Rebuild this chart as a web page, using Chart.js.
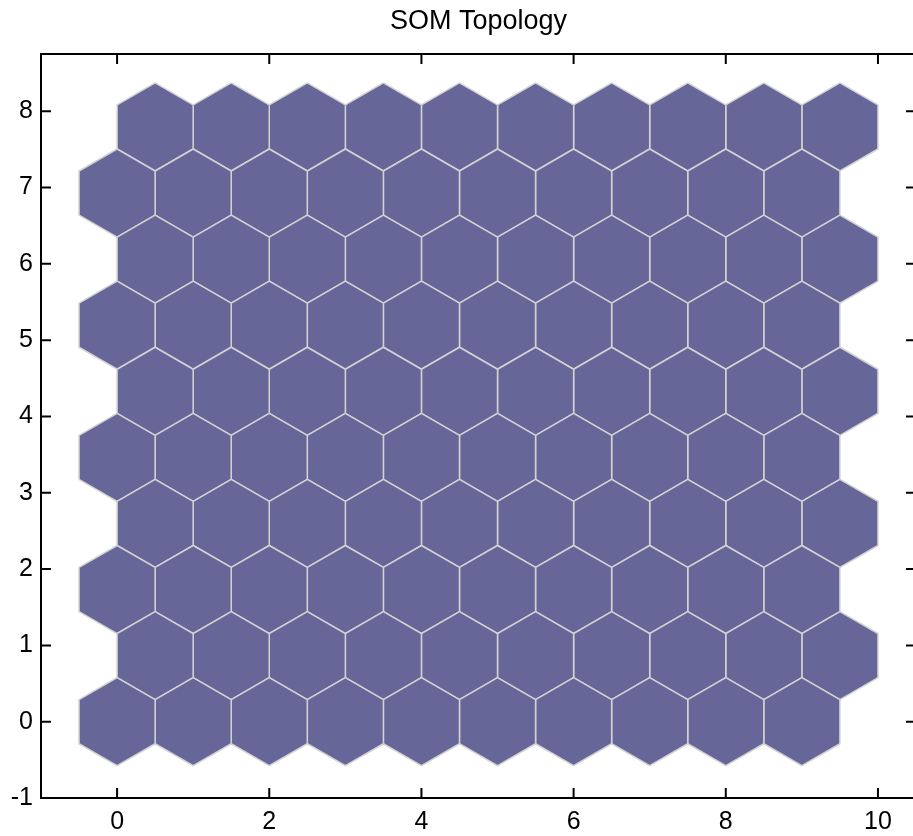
<!DOCTYPE html>
<html>
<head>
<meta charset="utf-8">
<script src="https://cdn.jsdelivr.net/npm/chart.js@4"></script>
<style>
  html, body { margin: 0; padding: 0; background: #fff; overflow: hidden; }
  #wrap { width: 913px; height: 836px; overflow: hidden; }
</style>
</head>
<body>
<div id="wrap"><canvas id="somChart" width="930" height="836"></canvas></div>
<script>
// SOM grid: 10 x 10 hexagonal neurons
const colX = [0, 1, 2, 3, 4, 5, 6, 7, 8, 9];
const rowY = [0, 0.866, 1.732, 2.598, 3.464, 4.330, 5.196, 6.062, 6.928, 7.794];
const rowShift = [0, 0.5, 0, 0.5, 0, 0.5, 0, 0.5, 0, 0.5];

// hexagon outline relative to its centre (pointy top)
const hexDX = [0, 0.5, 0.5, 0, -0.5, -0.5, 0];
const hexDY = [0.577, 0.289, -0.289, -0.577, -0.289, 0.289, 0.577];

const xTicks = [0, 2, 4, 6, 8, 10];
const yTicks = [-1, 0, 1, 2, 3, 4, 5, 6, 7, 8];

const datasets = [];
rowY.forEach((cy, r) => {
    colX.forEach(c => {
        const cx = c + rowShift[r];
        datasets.push({
            data: hexDX.map((dx, i) => ({ x: cx + dx, y: cy + hexDY[i] })),
            showLine: true,
            fill: 'shape',
            backgroundColor: '#666699',
            borderColor: '#d2d2d2',
            borderWidth: 1.5,
            pointRadius: 0,
            tension: 0
        });
    });
});

// MATLAB-style box with inward ticks on all four sides
const boxTicks = {
    id: 'boxTicks',
    afterDraw(chart) {
        const { ctx, chartArea: a, scales } = chart;
        const len = 10;
        ctx.save();
        ctx.strokeStyle = '#000';
        ctx.lineWidth = 2;
        ctx.strokeRect(a.left, a.top, a.right - a.left, a.bottom - a.top);
        ctx.beginPath();
        xTicks.forEach(v => {
            const px = scales.x.getPixelForValue(v);
            ctx.moveTo(px, a.bottom); ctx.lineTo(px, a.bottom - len);
            ctx.moveTo(px, a.top); ctx.lineTo(px, a.top + len);
        });
        yTicks.forEach(v => {
            const py = scales.y.getPixelForValue(v);
            ctx.moveTo(a.left, py); ctx.lineTo(a.left + len, py);
            ctx.moveTo(a.right, py); ctx.lineTo(a.right - len, py);
        });
        ctx.stroke();
        ctx.restore();
    }
};

new Chart(document.getElementById('somChart'), {
    type: 'scatter',
    data: { datasets },
    options: {
        responsive: false,
        animation: false,
        layout: { padding: { right: 14, left: 0, top: 0, bottom: 0 } },
        scales: {
            x: {
                type: 'linear',
                min: -1,
                max: 10.5,
                afterBuildTicks: s => { s.ticks = xTicks.map(v => ({ value: v })); },
                afterFit: s => { s.height = 38; },
                grid: { display: false, drawTicks: false },
                border: { display: false },
                ticks: { color: '#000', padding: 9, font: { family: 'Liberation Sans', size: 25 } }
            },
            y: {
                type: 'linear',
                min: -1,
                max: 8.75,
                afterBuildTicks: s => { s.ticks = yTicks.map(v => ({ value: v })); },
                afterFit: s => { s.width = 41; },
                grid: { display: false, drawTicks: false },
                border: { display: false },
                ticks: { color: '#000', padding: 8, font: { family: 'Liberation Sans', size: 25 } }
            }
        },
        plugins: {
            legend: { display: false },
            tooltip: { enabled: false },
            title: {
                display: true,
                fullSize: false,
                text: 'SOM Topology',
                color: '#000',
                font: { family: 'Liberation Sans', size: 27, weight: 'normal', lineHeight: 1 },
                padding: { top: 8, bottom: 19 }
            }
        }
    },
    plugins: [boxTicks]
});
</script>
</body>
</html>
